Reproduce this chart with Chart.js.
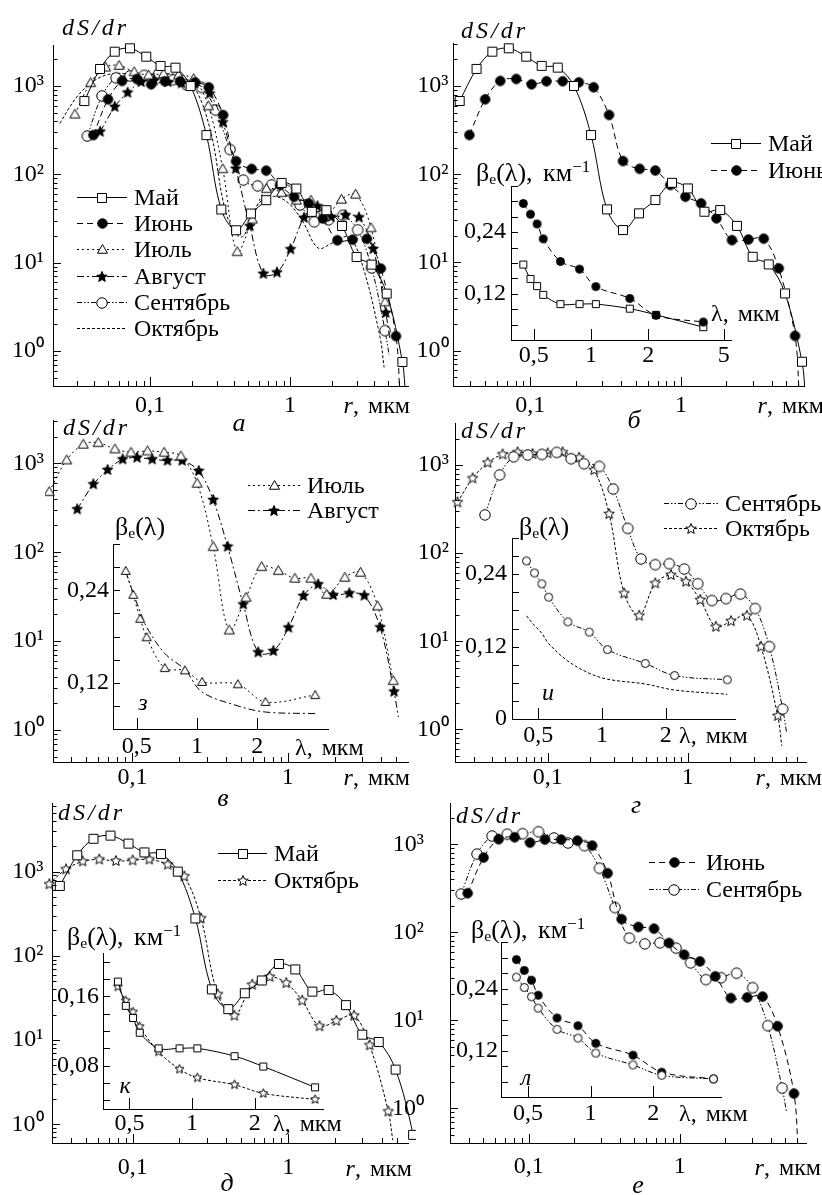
<!DOCTYPE html>
<html lang="ru">
<head>
<meta charset="utf-8">
<title>dS/dr</title>
<script src="https://cdn.jsdelivr.net/npm/chart.js@4.4.1/dist/chart.umd.min.js"></script>
<style>
  html, body { margin: 0; padding: 0; background: #fff; }
  #page { position: relative; width: 822px; height: 1195px; overflow: hidden; background: #fff; color: #000; }
  #page canvas { position: absolute; }
  .t { position: absolute; white-space: nowrap; font-size: 24px; line-height: 1; }
  .it { font-style: italic; }
  .ax { word-spacing: 3px; }
  .ds { font-size: 24px; letter-spacing: 3px; }
  .let { font-size: 26px; font-style: italic; }
  .be { font-size: 26px; word-spacing: 4px; }
  .t sub { font-size: 0.6em; position: relative; top: 0.2em; vertical-align: baseline; }
  .t sup { font-size: 0.65em; position: relative; top: -0.55em; vertical-align: baseline; }
</style>
</head>
<body>
<div id="page"></div>
<script>
// particle radius r (мкм) and dS/dr, one pair of arrays per month
const mayR = [0.034, 0.044, 0.056, 0.072, 0.094, 0.119, 0.152, 0.195, 0.253, 0.323, 0.412, 0.526, 0.676, 0.871, 1.11, 1.43, 1.82, 2.35, 2.99, 3.82, 4.90, 6.35];
const mayS = [676, 1560, 2450, 2675, 2150, 1690, 1615, 1000, 278, 40, 23.3, 36, 51, 80, 69, 37.6, 39.3, 26, 11.6, 9.5, 4.46, 0.75];
const mayTail = [6.7, 0.3];

const junR = [0.0394, 0.0502, 0.0632, 0.0807, 0.102, 0.128, 0.164, 0.210, 0.263, 0.333, 0.412, 0.532, 0.676, 0.849, 1.07, 1.36, 1.72, 2.18, 2.80, 3.54, 4.45, 5.71];
const junS = [278, 706, 1140, 1200, 1044, 1130, 1130, 1100, 966, 469, 141, 115, 110, 75.5, 55.6, 46.7, 31.6, 17.9, 18.2, 18.6, 8.57, 1.47];
const junTail = [6.1, 0.3];

const julR = [0.0291, 0.0377, 0.0482, 0.0602, 0.0771, 0.0978, 0.125, 0.160, 0.205, 0.261, 0.331, 0.420, 0.538, 0.679, 0.869, 1.11, 1.41, 1.78, 2.33, 2.94, 3.79, 4.77];
const julS = [480, 1090, 1636, 1708, 1449, 1330, 1377, 1330, 1209, 596, 115.5, 13.3, 31.1, 68.8, 62.1, 50.9, 50.9, 33.6, 52.2, 59.4, 24.8, 3.59];

const augR = [0.0441, 0.056, 0.0692, 0.0865, 0.107, 0.134, 0.168, 0.209, 0.267, 0.331, 0.410, 0.517, 0.645, 0.807, 1.01, 1.26, 1.57, 1.96, 2.49, 3.11, 3.93, 4.83];
const augS = [304, 581, 841, 1109, 1158, 1109, 1072, 1072, 820, 387, 115.5, 25.9, 7.48, 7.74, 14.2, 32.2, 43.5, 33.0, 34.5, 32.5, 14.3, 2.70];
const augTail = [5.15, 1.4];

const sepR = [0.0357, 0.0454, 0.0572, 0.072, 0.091, 0.116, 0.147, 0.182, 0.234, 0.294, 0.373, 0.464, 0.587, 0.739, 0.946, 1.18, 1.49, 1.88, 2.38, 3.04, 3.83, 4.77];
const sepS = [272, 773, 1240, 1300, 1320, 1390, 1180, 1035, 965, 534, 191, 86, 74, 76, 66, 45, 29, 30.5, 34.3, 23.5, 8.7, 1.7];
const sepTail = [5.1, 0.9];

const octR = [0.0227, 0.0291, 0.0373, 0.0477, 0.061, 0.078, 0.100, 0.128, 0.168, 0.215, 0.275, 0.352, 0.451, 0.587, 0.760, 0.972, 1.23, 1.59, 2.04, 2.65, 3.34, 4.40];
const octS = [377, 706, 1062, 1321, 1393, 1333, 1357, 1393, 1211, 877, 278, 34.9, 19.5, 45.4, 56.4, 47.4, 29.4, 14.6, 16.9, 19.5, 8.67, 1.42];
const octTail = [4.7, 0.65];

// insets: extinction coefficient βe(λ), км^-1, at the photometer wavelengths
const lam = [0.44, 0.48, 0.52, 0.56, 0.69, 0.87, 1.06, 1.6, 2.2, 3.9];
const mayBeta = [0.177, 0.149, 0.135, 0.118, 0.100, 0.100, 0.100, 0.091, 0.079, 0.055];
const junBeta = [0.296, 0.275, 0.256, 0.227, 0.183, 0.168, 0.134, 0.111, 0.078, 0.065];
const julBeta = [0.265, 0.234, 0.203, 0.179, 0.139, 0.136, 0.121, 0.118, 0.095, 0.104];
const augBeta = [0.264, 0.236, 0.212, 0.192, 0.158, 0.137, 0.108, 0.090, 0.082, 0.080];
const sepBeta = [0.262, 0.242, 0.224, 0.202, 0.161, 0.144, 0.115, 0.092, 0.072, 0.065];
const octBeta = [0.171, 0.155, 0.142, 0.125, 0.096, 0.076, 0.066, 0.058, 0.048, 0.041];

const months = {
  may: {name: 'Май', r: mayR, s: mayS, tail: mayTail, beta: mayBeta, dash: [], mark: 'square'},
  jun: {name: 'Июнь', r: junR, s: junS, tail: junTail, beta: junBeta, dash: [6, 4], mark: 'dot'},
  jul: {name: 'Июль', r: julR, s: julS, tail: null, beta: julBeta, dash: [2, 3], mark: 'tri'},
  aug: {name: 'Август', r: augR, s: augS, tail: augTail, beta: augBeta, dash: [7, 3, 2, 3], mark: 'star'},
  sep: {name: 'Сентябрь', r: sepR, s: sepS, tail: sepTail, beta: sepBeta, dash: [5, 2, 1.5, 2, 1.5, 2], mark: 'circle'},
  oct: {name: 'Октябрь', r: octR, s: octS, tail: octTail, beta: octBeta, dash: [3, 2], mark: 'ostar'}
};

// panel frames (page px) and axis ranges
const panels = [
  {L: 53, R: 408, T: 45, B: 386, xr: [0.0203, 6.96], yr: [0.401, 2914], yPad: 9, xPad: 5,
   keys: ['may', 'jun', 'jul', 'aug', 'sep', 'oct'], bare: ['oct'],
   legend: {x: 77, len: 50, y: 197, dy: 26.2}},
  {L: 453, R: 804, T: 43, B: 386, xr: [0.0307, 6.55], yr: [0.398, 3069], yPad: 4.5, xPad: 5,
   keys: ['may', 'jun'], legend: {x: 711, len: 50, y: 143, dy: 26.7},
   inset: {L: 511, R: 731, T: 186, B: 340, xr: [0.379, 5.46], yr: [0.03, 0.33], step: 0.03,
           yLab: [0.12, 0.24], xLab: [0.5, 1, 2, 5], yPad: 5, xPad: 1, keys: ['jun', 'may']}},
  {L: 53, R: 408, T: 420, B: 762, xr: [0.0308, 5.94], yr: [0.437, 3070], yPad: 9, xPad: 1.5,
   keys: ['jul', 'aug'], legend: {x: 248, len: 52, y: 485, dy: 25},
   inset: {L: 113, R: 328, T: 544, B: 729, xr: [0.38, 4.52], yr: [0.06, 0.30], step: 0.03,
           yLab: [0.12, 0.24], xLab: [0.5, 1, 2], yPad: 4, xPad: 3.5, keys: ['jul', 'aug'], bare: ['aug']}},
  {L: 455, R: 806, T: 423, B: 762, xr: [0.0218, 7.0], yr: [0.426, 3000], yPad: 6, xPad: 1.5,
   keys: ['sep', 'oct'], legend: {x: 664, len: 54, y: 503, dy: 25},
   inset: {L: 512, R: 735, T: 538, B: 719, xr: [0.376, 4.24], yr: [0, 0.30], step: 0.03,
           yLab: [0, 0.12, 0.24], xLab: [0.5, 1, 2], yPad: 5, xPad: 2, keys: ['sep', 'oct'], bare: ['oct']}},
  {L: 52, R: 408, T: 803, B: 1143, xr: [0.0303, 5.89], yr: [0.61, 6516], yPad: 8.5, xPad: 10.5,
   keys: ['may', 'oct'], legend: {x: 218, len: 49, y: 853, dy: 26.7},
   inset: {L: 103, R: 323, T: 953, B: 1109, xr: [0.373, 4.26], yr: [0.03, 0.21], step: 0.02,
           yLab: [0.08, 0.16], xLab: [0.5, 1, 2], yPad: 4, xPad: 0, keys: ['may', 'oct']}},
  {L: 450, R: 806, T: 803, B: 1143, xr: [0.0301, 6.86], yr: [0.404, 2944], yPad: 26, xPad: 9,
   keys: ['jun', 'sep'], legend: {x: 649, len: 50, y: 862, dy: 26.6},
   inset: {L: 501, R: 721, T: 942, B: 1097, xr: [0.371, 4.24], yr: [0.03, 0.33], step: 0.03,
           yLab: [0.12, 0.24], xLab: [0.5, 1, 2], yPad: 3, xPad: 2.5, keys: ['sep', 'jun']}}
];

// find a serif face that is really installed
function pickSerif(cands) {
  const g = document.createElement('canvas').getContext('2d');
  const probe = 'Сентябрь Октябрь mwiMW 0,24 βλ';
  for (const f of cands) {
    for (const b of ['monospace', 'sans-serif']) {
      g.font = '40px ' + b;
      const w0 = g.measureText(probe).width;
      g.font = '40px "' + f + '", ' + b;
      if (Math.abs(g.measureText(probe).width - w0) > 0.5) return '"' + f + '"';
    }
  }
  return 'serif';
}
const SERIF = pickSerif(['Liberation Serif', 'Times New Roman', 'Tinos', 'DejaVu Serif', 'Noto Serif',
                         'FreeSerif', 'Nimbus Roman', 'Times']);
const FAMILY = SERIF + ', serif';
const FS = 24;

Chart.defaults.font.family = FAMILY;
Chart.defaults.font.size = FS;
Chart.defaults.color = '#000';

const page = document.getElementById('page');
page.style.fontFamily = FAMILY;
const SUP = ['⁰', '¹', '²', '³', '⁴'];

function markerCanvas(kind, d) {
  const s = Math.ceil(d) + 3;
  const c = document.createElement('canvas');
  c.width = s; c.height = s;
  const g = c.getContext('2d');
  const m = s / 2, r = d / 2;
  g.lineWidth = 1;
  g.strokeStyle = '#000';
  g.fillStyle = (kind === 'dot' || kind === 'star') ? '#000' : '#fff';
  g.beginPath();
  if (kind === 'square') {
    g.rect(m - r, m - r, d, d);
  } else if (kind === 'dot' || kind === 'circle') {
    g.arc(m, m, r, 0, Math.PI * 2);
  } else if (kind === 'tri') {
    g.moveTo(m, m - r);
    g.lineTo(m + r, m + r * 0.75);
    g.lineTo(m - r, m + r * 0.75);
    g.closePath();
  } else {
    for (let k = 0; k < 10; k++) {
      const a = -Math.PI / 2 + k * Math.PI / 5;
      const rr = k % 2 ? r * 0.45 : r;
      g.lineTo(m + rr * Math.cos(a), m + rr * Math.sin(a));
    }
    g.closePath();
  }
  g.fill();
  g.stroke();
  return c;
}

const markMain = {
  square: markerCanvas('square', 9), dot: markerCanvas('dot', 9.5), circle: markerCanvas('circle', 10.5),
  tri: markerCanvas('tri', 10), star: markerCanvas('star', 11), ostar: markerCanvas('ostar', 11)
};
const markInset = {
  square: markerCanvas('square', 7), dot: markerCanvas('dot', 8), circle: markerCanvas('circle', 8),
  tri: markerCanvas('tri', 9), star: markerCanvas('star', 9.5), ostar: markerCanvas('ostar', 9.5)
};

function logTicks(min, max, majorLen, minorLen) {
  const out = [];
  for (let e = Math.floor(Math.log10(min)); e <= Math.ceil(Math.log10(max)); e++) {
    for (let m = 1; m <= 9; m++) {
      const v = m * Math.pow(10, e);
      if (v > min * 1.001 && v < max * 0.999) out.push({v, len: m === 1 ? majorLen : minorLen});
    }
  }
  return out;
}

function linTicks(min, max, step, len) {
  const out = [];
  for (let k = Math.ceil(min / step - 1e-6); k <= Math.floor(max / step + 1e-6); k++) {
    const v = k * step;
    if (v > min + 1e-9) out.push({v, len});
  }
  return out;
}

// tick marks point inward, as in the original
function tickPlugin(xt, yt) {
  return {
    id: 'innerTicks',
    afterDraw(chart) {
      const {ctx, chartArea: a} = chart;
      const xs = chart.scales.x, ys = chart.scales.y;
      ctx.save();
      ctx.strokeStyle = '#000';
      ctx.lineWidth = 1;
      ctx.setLineDash([]);
      ctx.beginPath();
      xt.forEach(t => {
        const px = Math.round(xs.getPixelForValue(t.v)) + 0.5;
        ctx.moveTo(px, a.bottom);
        ctx.lineTo(px, a.bottom - t.len);
      });
      yt.forEach(t => {
        const py = Math.round(ys.getPixelForValue(t.v)) + 0.5;
        ctx.moveTo(a.left, py);
        ctx.lineTo(a.left + t.len, py);
      });
      ctx.stroke();
      ctx.restore();
    }
  };
}

function legendPlugin(p, offX, offY, marks) {
  const lg = p.legend, bare = p.bare || [];
  return {
    id: 'monthLegend',
    afterDraw(chart) {
      const ctx = chart.ctx;
      ctx.save();
      ctx.font = FS + 'px ' + FAMILY;
      ctx.textBaseline = 'middle';
      ctx.fillStyle = '#000';
      ctx.strokeStyle = '#000';
      ctx.lineWidth = 1;
      p.keys.forEach((k, i) => {
        const m = months[k];
        const y = Math.round(lg.y + i * lg.dy - offY) + 0.5;
        const x0 = lg.x - offX, x1 = x0 + lg.len;
        ctx.setLineDash(m.dash);
        ctx.beginPath();
        ctx.moveTo(x0, y);
        ctx.lineTo(x1, y);
        ctx.stroke();
        ctx.setLineDash([]);
        if (!bare.includes(k)) {
          const img = marks[m.mark];
          ctx.drawImage(img, Math.round((x0 + x1 - img.width) / 2), Math.round(y - img.height / 2));
        }
        ctx.fillText(m.name, x1 + 7, y + 1);
      });
      ctx.restore();
    }
  };
}

const fmtX = v => String(v).replace('.', ',');
const fmtPow = v => '10' + SUP[Math.round(Math.log10(v))];
const fmtDec = v => v === 0 ? '0' : v.toFixed(2).replace('.', ',');

function plot(p, inset) {
  // axis boxes are wide enough that Chart.js does not clip the tick labels
  const padL = 5, axW = inset ? 55 : 75, padT = 45, padR = 25;
  const axH = inset ? 38 : 45, padB = 8;
  const left = p.L - padL - axW, top = p.T - padT;
  const cv = document.createElement('canvas');
  cv.width = p.R - p.L + padL + axW + padR;
  cv.height = p.B - p.T + padT + axH + padB;
  cv.style.left = left + 'px';
  cv.style.top = top + 'px';
  page.appendChild(cv);

  const marks = inset ? markInset : markMain;
  const bare = p.bare || [];
  const datasets = p.keys.map(k => {
    const m = months[k];
    const showMarks = !bare.includes(k);
    const xs = inset ? lam : m.r;
    const ys = inset ? m.beta : m.s;
    const n = xs.length;
    const data = xs.map((x, i) => ({x, y: ys[i]}));
    if (!inset && m.tail) data.push({x: m.tail[0], y: m.tail[1]});
    return {
      label: m.name,
      data,
      borderColor: '#000',
      borderWidth: 1,
      borderDash: m.dash,
      tension: 0.35,
      fill: false,
      pointStyle: marks[m.mark],
      pointRadius: c => (showMarks && c.dataIndex < n) ? 5 : 0,
      pointHoverRadius: 0,
      clip: {left: 8, top: 8, right: 8, bottom: 0}
    };
  });

  const xTicks = inset ? p.xLab.map(v => ({v, len: 11})) : logTicks(p.xr[0], p.xr[1], 9, 5);
  const yTicks = inset ? linTicks(p.yr[0], p.yr[1], p.step, 7) : logTicks(p.yr[0], p.yr[1], 8, 4.5);
  const extra = p.legend ? [legendPlugin(p, left, top, marks)] : [];

  new Chart(cv, {
    type: 'line',
    data: {datasets},
    options: {
      responsive: false,
      animation: false,
      events: [],
      devicePixelRatio: 1,
      layout: {padding: {left: padL, top: padT, right: padR, bottom: padB}},
      plugins: {legend: {display: false}, tooltip: {enabled: false}},
      scales: {
        x: {
          type: 'logarithmic',
          min: p.xr[0],
          max: p.xr[1],
          grid: {display: false, drawTicks: false},
          border: {display: true, color: '#000', width: 1},
          ticks: {autoSkip: false, maxRotation: 0, padding: p.xPad, color: '#000', callback: v => fmtX(v)},
          afterBuildTicks: s => { s.ticks = (inset ? p.xLab : [0.1, 1]).map(v => ({value: v})); },
          afterFit: s => { s.height = axH; }
        },
        y: {
          type: inset ? 'linear' : 'logarithmic',
          min: p.yr[0],
          max: p.yr[1],
          grid: {display: false, drawTicks: false},
          border: {display: true, color: '#000', width: 1},
          ticks: {autoSkip: false, padding: p.yPad, color: '#000', callback: v => inset ? fmtDec(v) : fmtPow(v)},
          afterBuildTicks: s => { s.ticks = (inset ? p.yLab : [1, 10, 100, 1000]).map(v => ({value: v})); },
          afterFit: s => { s.width = axW; }
        }
      }
    },
    plugins: [tickPlugin(xTicks, yTicks)].concat(extra)
  });
}

panels.forEach(p => {
  plot(p, false);
  if (p.inset) plot(p.inset, true);
});

// text set in the figure outside the axes
function text(html, x, y, align, cls) {
  const el = document.createElement('div');
  el.className = 't ' + (cls || '');
  el.innerHTML = html;
  el.style.left = x + 'px';
  el.style.top = y + 'px';
  const tx = align === 'c' ? '-50%' : align === 'r' ? '-100%' : '0';
  el.style.transform = 'translate(' + tx + ', -50%)';
  page.appendChild(el);
}

const beta = 'β<sub>e</sub>(λ)';
const betaKm = beta + ', км<sup>−1</sup>';
const lamLabel = 'λ, мкм';
const rLabel = '<i>r</i>, мкм';

[[62, 27], [461, 30], [63, 427], [461, 430], [58, 812], [456, 815]]
  .forEach(([x, y]) => text('dS/dr', x, y, 'l', 'it ds'));
[[410, 405], [824, 405], [410, 777], [822, 777], [412, 1168], [821, 1167]]
  .forEach(([x, y]) => text(rLabel, x, y, 'r', 'ax'));
[['а', 239, 423], ['б', 634, 420], ['в', 223, 798], ['г', 636, 805], ['д', 227, 1183], ['е', 638, 1185]]
  .forEach(([s, x, y]) => text(s, x, y, 'c', 'let'));

text(betaKm, 476, 173, 'l', 'be');
text(beta, 115, 527, 'l', 'be');
text(beta, 519, 527, 'l', 'be');
text(betaKm, 67, 937, 'l', 'be');
text(betaKm, 471, 930, 'l', 'be');

[[711, 313], [295, 747], [679, 735], [273, 1123], [679, 1113]]
  .forEach(([x, y]) => text(lamLabel, x, y, 'l', 'ax'));
[['з', 143, 702], ['и', 548, 692], ['к', 125, 1085], ['л', 526, 1077]]
  .forEach(([s, x, y]) => text(s, x, y, 'c', 'it'));
</script>
</body>
</html>
